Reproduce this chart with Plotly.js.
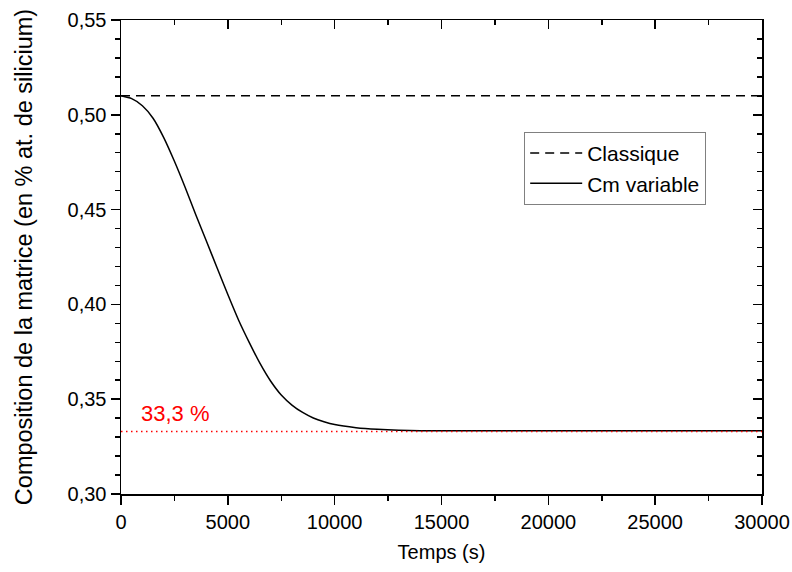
<!DOCTYPE html>
<html>
<head>
<meta charset="utf-8">
<script src="https://cdn.plot.ly/plotly-3.0.1.min.js"></script>
<style>html,body{margin:0;padding:0;background:#fff;}#chart{width:792px;height:572px;}</style>
</head>
<body>
<div id="chart"></div>
<script>
// Data
const timeS = [0, 500, 1000, 1500, 2000, 2500, 3000, 3500, 4000, 4500, 5000, 5500, 6000, 6500, 7000, 7500, 8000, 8500, 9000, 9500, 10000, 11000, 12000, 13000, 14000, 16000, 20000, 25000, 30000];
const cmVariable = [0.5100, 0.5085, 0.5048, 0.4982, 0.4880, 0.4755, 0.4618, 0.4473, 0.4333, 0.4192, 0.4052, 0.3918, 0.3800, 0.3690, 0.3596, 0.3522, 0.3469, 0.3430, 0.3401, 0.3381, 0.3366, 0.3350, 0.3341, 0.3336, 0.3334, 0.3333, 0.3333, 0.3333, 0.3333];
const classiqueX = [0, 30000];
const classiqueY = [0.51, 0.51];
const refX = [0, 30000];
const refY = [0.333, 0.333];
const refLabel = '33,3 %';
const seriesNames = ['Classique', 'Cm variable'];
const xTitle = 'Temps (s)';
const yTitle = 'Composition de la matrice (en % at. de silicium)';

const FONT = 'Liberation Sans, Arial, sans-serif';

const traces = [
  {x: classiqueX, y: classiqueY, name: seriesNames[0], mode: 'lines',
   line: {color: '#000', width: 1.5, dash: '9px,6px'}, hoverinfo: 'skip'},
  {x: timeS, y: cmVariable, name: seriesNames[1], mode: 'lines',
   line: {color: '#000', width: 1.5, shape: 'spline', smoothing: 0.6}, hoverinfo: 'skip'},
  {x: refX, y: refY, mode: 'lines', showlegend: false,
   line: {color: '#ff0000', width: 1.5, dash: '1.5px,3.5px'}, hoverinfo: 'skip'},
  {x: [0], y: [0.3], xaxis: 'x2', yaxis: 'y2', mode: 'none', showlegend: false, hoverinfo: 'skip'}
];

const axisCommon = {
  showgrid: false, zeroline: false, showline: true, linecolor: '#000', linewidth: 1.5,
  tickcolor: '#000', tickwidth: 1.5, ticklen: 9,
  tickfont: {family: FONT, size: 20, color: '#000'}
};

const layout = {
  width: 792, height: 572,
  margin: {l: 121, r: 30, t: 20, b: 78},
  paper_bgcolor: '#fff', plot_bgcolor: '#fff',
  separators: ', ',
  showlegend: true,
  legend: {x: 0.629, y: 0.764, xanchor: 'left', yanchor: 'top',
    bordercolor: '#808080', borderwidth: 1, bgcolor: '#fff',
    font: {family: FONT, size: 21, color: '#000'}, tracegroupgap: 0, itemwidth: 52},
  xaxis: Object.assign({}, axisCommon, {
    range: [0, 30000], dtick: 5000, tick0: 0, ticks: 'outside', tickformat: 'd',
    minor: {dtick: 2500, ticks: 'outside', ticklen: 5, tickwidth: 1.5, tickcolor: '#000'},
    title: {text: xTitle, font: {family: FONT, size: 20, color: '#000'}, standoff: 13}
  }),
  yaxis: Object.assign({}, axisCommon, {
    range: [0.30, 0.55], dtick: 0.05, tick0: 0.30, ticks: 'outside', tickformat: '.2f',
    minor: {dtick: 0.01, ticks: 'outside', ticklen: 5, tickwidth: 1.5, tickcolor: '#000'},
    title: {text: yTitle, font: {family: FONT, size: 23.5, color: '#000'}, standoff: 28}
  }),
  xaxis2: Object.assign({}, axisCommon, {
    overlaying: 'x', side: 'top', anchor: 'y2', range: [0, 30000], dtick: 5000, tick0: 0,
    ticks: 'inside', showticklabels: false,
    minor: {dtick: 2500, ticks: 'inside', ticklen: 5, tickwidth: 1.5, tickcolor: '#000'}
  }),
  yaxis2: Object.assign({}, axisCommon, {
    overlaying: 'y', side: 'right', anchor: 'x2', range: [0.30, 0.55], dtick: 0.05, tick0: 0.30,
    ticks: 'inside', showticklabels: false,
    minor: {dtick: 0.01, ticks: 'inside', ticklen: 5, tickwidth: 1.5, tickcolor: '#000'}
  }),
  annotations: [
    {x: 850, y: 0.3427, xref: 'x', yref: 'y', xanchor: 'left', yanchor: 'middle',
     text: refLabel, showarrow: false, font: {family: FONT, size: 22, color: '#ff0000'}}
  ]
};

Plotly.newPlot('chart', traces, layout, {displayModeBar: false, staticPlot: true});
</script>
</body>
</html>
